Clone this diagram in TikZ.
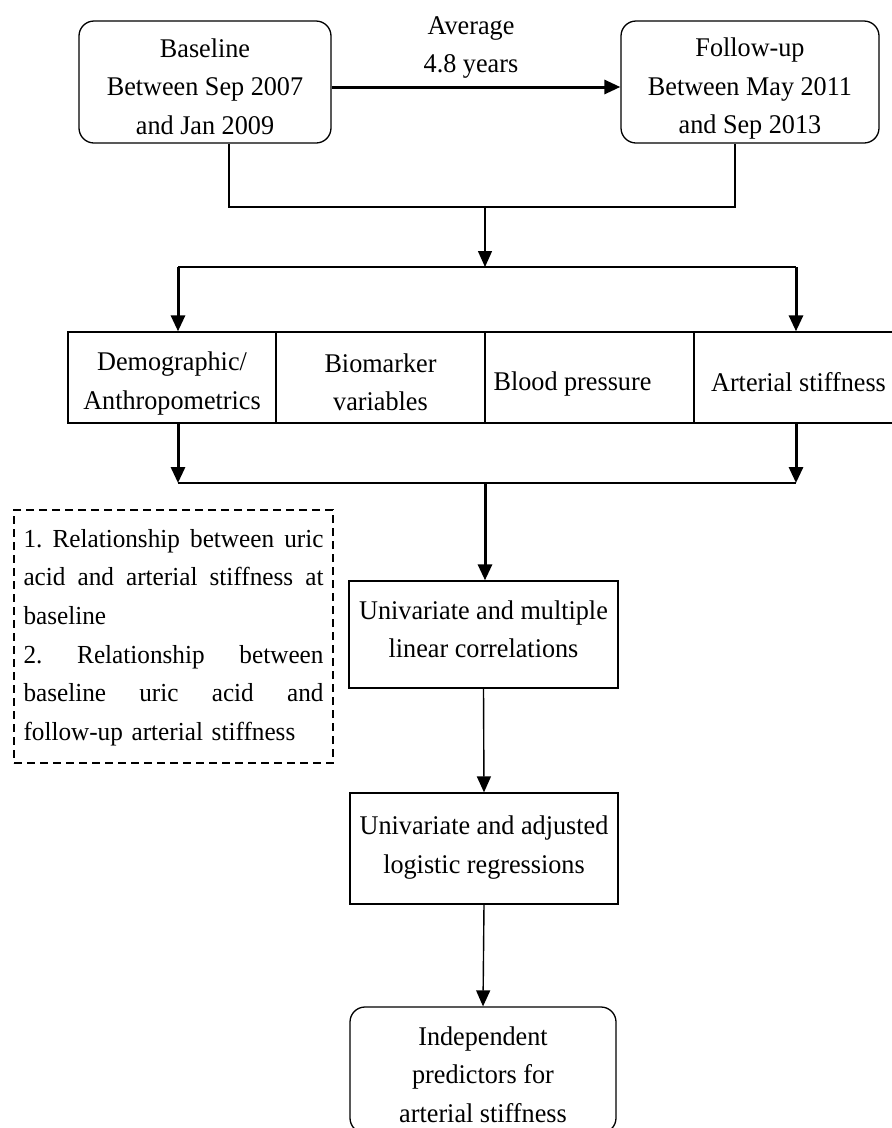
\documentclass[tikz,border=0pt]{standalone}
\usepackage{fontspec}
\setmainfont[FakeStretch=0.97]{Liberation Serif}
\usetikzlibrary{arrows.meta}
\begin{document}
\begin{tikzpicture}[x=1pt,y=-1pt,
  every node/.style={font=\fontsize{27}{38.5}\selectfont, inner sep=0pt, align=center},
  rbox/.style={draw, line width=1.3pt, rounded corners=15pt},
  sbox/.style={draw, line width=1.3pt},
  dbox/.style={draw, line width=1.5pt, dash pattern=on 8pt off 5pt},
  arr/.style={-{Triangle[length=16pt,width=14pt]}},
  thinline/.style={line width=1.4pt},
  midline/.style={line width=2pt},
  thickline/.style={line width=3pt}]
\fill[white] (0,0) rectangle (892,1128);
\useasboundingbox (0,0) rectangle (892,1128);

% top boxes
\node[rbox, minimum width=252pt, minimum height=122pt,
  label={[yshift=-4.5pt]center:Baseline\\Between Sep 2007\\and Jan 2009}] (base) at (205,82) {};
\node[rbox, minimum width=258pt, minimum height=122pt,
  label={[yshift=-7pt]center:Follow-up\\Between May 2011\\and Sep 2013}] (follow) at (750,82) {};
\node (avg) at (471,47.5) {Average\\4.8 years};
\draw[thickline, arr] ([yshift=-5pt]base.east) -- ([yshift=-5pt]follow.west);

\coordinate (j) at (485,207);
\draw[thinline] ([xshift=24pt]base.south) |- (j) -| ([xshift=-15pt]follow.south);
\coordinate (k) at (485,267);
\draw[thinline, arr] (j) -- (k);
\coordinate (kL) at (178,267);
\coordinate (kR) at (796,267);
\draw[midline] (kL) -- (kR);

% row of cells
\node[sbox, minimum width=208pt, minimum height=91pt,
  label={[yshift=-6pt]center:Demographic/\\Anthropometrics}] (c1) at (172,377.5) {};
\node[sbox, minimum width=209pt, minimum height=91pt,
  label={[yshift=-5pt]center:Biomarker\\variables}] (c2) at (380.5,377.5) {};
\node[sbox, minimum width=209pt, minimum height=91pt,
  label={[xshift=-17pt,yshift=-6.5pt]center:Blood pressure}] (c3) at (589.5,377.5) {};
\node[sbox, minimum width=209pt, minimum height=91pt,
  label={[yshift=-4.5pt]center:Arterial stiffness}] (c4) at (798.5,377.5) {};

\draw[thickline, arr] (kL) -- (kL |- c1.north);
\draw[thickline, arr] (kR) -- (kR |- c4.north);

\coordinate (mL) at (178,483);
\coordinate (mR) at (796,483);
\coordinate (m) at (485,483);
\draw[thickline, arr] (mL |- c1.south) -- (mL);
\draw[thickline, arr] (mR |- c4.south) -- (mR);
\draw[midline] (mL) -- (mR);

% dashed note
\node[dbox, minimum width=319pt, minimum height=253pt,
  label={[yshift=-1pt, font=\fontsize{26}{38.6}\selectfont, text width=300pt, align=left]center:%
  \makebox[300pt][s]{1.\hfill Relationship\hfill between\hfill uric}\\
  \makebox[300pt][s]{acid\hfill and\hfill arterial\hfill stiffness\hfill at}\\
  baseline\\
  \makebox[300pt][s]{2.\hfill Relationship\hfill between}\\
  \makebox[300pt][s]{baseline\hfill uric\hfill acid\hfill and}\\
  follow-up arterial stiffness}] (note) at (173.5,636.5) {};

% analysis chain
\node[sbox, minimum width=269pt, minimum height=107pt,
  label={[yshift=5pt]center:Univariate and multiple\\linear correlations}] (u1) at (483.5,634.5) {};
\node[sbox, minimum width=268pt, minimum height=111pt,
  label={[yshift=1pt]center:Univariate and adjusted\\logistic regressions}] (u2) at (484,848.5) {};
\node[rbox, minimum width=266pt, minimum height=126pt,
  label={[yshift=-4.5pt]center:Independent\\predictors for\\arterial stiffness}] (fin) at (483,1070) {};

\draw[thickline, arr] (m) -- (m |- u1.north);
\draw[thinline, arr] (u1.south) -- (u2.north);
\draw[thinline, arr] (u2.south) -- (fin.north);
\end{tikzpicture}
\end{document}
